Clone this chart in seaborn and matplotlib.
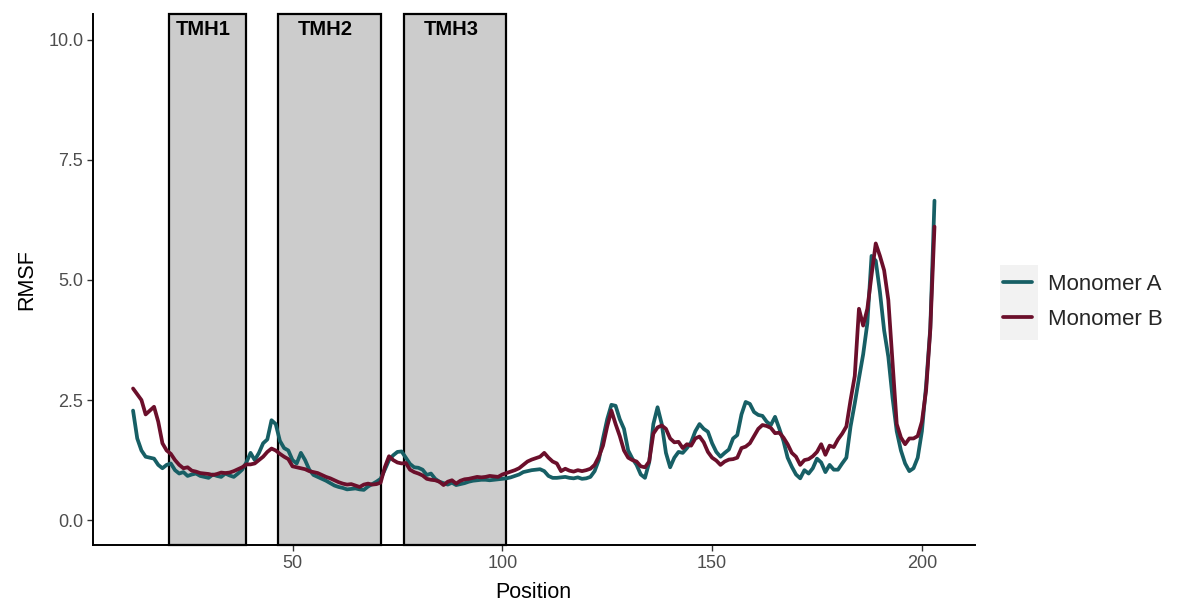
import numpy as np
import pandas as pd
import seaborn as sns
import matplotlib.pyplot as plt
from matplotlib.patches import Rectangle

# residue positions
position = list(range(12, 204))

monomer_a = [
    2.28, 1.70, 1.45, 1.32, 1.30, 1.28, 1.15, 1.08, 1.15, 1.18,
    1.04, 0.97, 1.00, 0.92, 0.95, 0.97, 0.92, 0.90, 0.88, 0.95,
    0.92, 0.90, 0.97, 0.93, 0.90, 0.97, 1.05, 1.20, 1.40, 1.25,
    1.40, 1.60, 1.68, 2.08, 2.00, 1.65, 1.50, 1.45, 1.25, 1.18,
    1.40, 1.25, 1.05, 0.94, 0.90, 0.86, 0.82, 0.77, 0.72, 0.69,
    0.67, 0.64, 0.65, 0.66, 0.64, 0.63, 0.70, 0.75, 0.80, 0.86,
    1.05, 1.25, 1.35, 1.42, 1.43, 1.30, 1.17, 1.10, 1.09, 1.05,
    0.94, 0.97, 0.86, 0.80, 0.77, 0.74, 0.78, 0.73, 0.75, 0.77,
    0.80, 0.82, 0.83, 0.84, 0.84, 0.83, 0.84, 0.85, 0.86, 0.87,
    0.89, 0.92, 0.95, 1.00, 1.02, 1.04, 1.05, 1.06, 1.02, 0.92,
    0.88, 0.88, 0.89, 0.90, 0.88, 0.87, 0.89, 0.86, 0.87, 0.90,
    1.02, 1.25, 1.70, 2.10, 2.40, 2.38, 2.10, 1.90, 1.45, 1.28,
    1.15, 0.95, 0.88, 1.20, 2.00, 2.35, 2.00, 1.40, 1.10, 1.30,
    1.42, 1.40, 1.50, 1.62, 1.85, 2.00, 1.90, 1.84, 1.60, 1.42,
    1.32, 1.40, 1.47, 1.70, 1.77, 2.20, 2.46, 2.42, 2.25, 2.19,
    2.17, 2.05, 1.98, 2.15, 1.91, 1.65, 1.30, 1.11, 0.95, 0.87,
    1.04, 0.97, 1.08, 1.28, 1.20, 1.00, 1.15, 1.05, 1.05, 1.18,
    1.30, 1.95, 2.43, 2.95, 3.45, 4.10, 5.50, 5.40, 4.75, 3.95,
    3.40, 2.55, 1.85, 1.45, 1.18, 1.02, 1.08, 1.30, 1.85, 2.80,
    4.00, 6.65,
]

monomer_b = [
    2.74, 2.62, 2.50, 2.20, 2.28, 2.36, 2.05, 1.60, 1.45, 1.38,
    1.25, 1.15, 1.08, 1.10, 1.03, 1.01, 0.98, 0.97, 0.96, 0.94,
    0.96, 0.99, 0.98, 0.99, 1.02, 1.06, 1.10, 1.16, 1.16, 1.18,
    1.25, 1.32, 1.42, 1.49, 1.45, 1.38, 1.32, 1.27, 1.12, 1.10,
    1.08, 1.06, 1.02, 1.00, 0.98, 0.94, 0.90, 0.87, 0.83, 0.79,
    0.76, 0.74, 0.75, 0.72, 0.69, 0.74, 0.76, 0.74, 0.75, 0.78,
    1.10, 1.33, 1.25, 1.20, 1.18, 1.19, 1.05, 1.00, 0.97, 0.93,
    0.86, 0.84, 0.83, 0.80, 0.73, 0.80, 0.83, 0.76, 0.82, 0.85,
    0.86, 0.88, 0.90, 0.89, 0.90, 0.92, 0.91, 0.90, 0.95, 0.98,
    1.01, 1.04, 1.08, 1.15, 1.22, 1.26, 1.29, 1.32, 1.40, 1.30,
    1.22, 1.18, 1.02, 1.07, 1.03, 1.01, 1.04, 1.02, 1.04, 1.07,
    1.15, 1.32, 1.55, 1.95, 2.28, 2.00, 1.75, 1.45, 1.30, 1.25,
    1.22, 1.12, 1.10, 1.22, 1.80, 1.93, 1.97, 1.90, 1.70, 1.62,
    1.63, 1.50, 1.58, 1.55, 1.70, 1.74, 1.62, 1.42, 1.30, 1.24,
    1.15, 1.22, 1.26, 1.27, 1.30, 1.50, 1.53, 1.60, 1.75, 1.90,
    1.98, 1.96, 1.92, 1.81, 1.82, 1.72, 1.58, 1.40, 1.32, 1.15,
    1.25, 1.27, 1.33, 1.42, 1.58, 1.36, 1.55, 1.52, 1.68, 1.80,
    1.95, 2.50, 3.00, 4.40, 4.05, 4.40, 5.10, 5.76, 5.50, 5.20,
    4.58, 3.30, 2.00, 1.72, 1.58, 1.70, 1.70, 1.75, 2.05, 2.70,
    3.96, 6.11,
]

# transmembrane helices
tmh_labels = ["TMH1", "TMH2", "TMH3"]
tmh_start = [20.6, 46.6, 76.6]
tmh_end = [39, 71, 101]

df = pd.concat([
    pd.DataFrame({"Position": position, "RMSF": monomer_a, "Monomer": "Monomer A"}),
    pd.DataFrame({"Position": position, "RMSF": monomer_b, "Monomer": "Monomer B"}),
], ignore_index=True)

sns.set_style("white")
plt.rcParams["font.family"] = ["Liberation Sans", "DejaVu Sans"]

fig = plt.figure(figsize=(11.77, 6.01), dpi=100)
ax = fig.add_axes([0.079, 0.093, 0.749, 0.884])

ylo, yhi = -0.52, 10.54
for lab, s, e in zip(tmh_labels, tmh_start, tmh_end):
    ax.add_patch(Rectangle((s, ylo), e - s, yhi - ylo, facecolor="#cccccc",
                           edgecolor="black", linewidth=1.6, zorder=1, clip_on=False))
    ax.text((s + e) / 2 - 1.0, 10.22, lab, ha="center", va="center",
            fontsize=14.5, fontweight="bold", color="black", zorder=3)

colores = {"Monomer A": "#175f65", "Monomer B": "#6b0f2b"}
sns.lineplot(data=df, x="Position", y="RMSF", hue="Monomer", palette=colores,
             linewidth=2.7, ax=ax, zorder=2)

ax.set_xlim(2.45, 212.55)
ax.set_ylim(ylo, yhi)
ax.set_xticks([50, 100, 150, 200])
ax.set_yticks([0, 2.5, 5.0, 7.5, 10.0])
ax.set_yticklabels(["0.0", "2.5", "5.0", "7.5", "10.0"])
ax.tick_params(axis="both", direction="out", length=4, width=1, color="#333333",
               labelsize=13, labelcolor="#4d4d4d", left=True, bottom=True, pad=3)
ax.set_xlabel("Position", fontsize=15.5, color="black", labelpad=7)
ax.set_ylabel("RMSF", fontsize=15.5, color="black", labelpad=8)

for side in ["top", "right"]:
    ax.spines[side].set_visible(False)
for side in ["left", "bottom"]:
    ax.spines[side].set_color("black")
    ax.spines[side].set_linewidth(1.4)

# legend with ggplot-like grey key background (behind the legend)
fig.patches.append(Rectangle((0.8496, 0.434), 0.0323, 0.125, transform=fig.transFigure,
                             facecolor="#f2f2f2", edgecolor="none", zorder=-5))
handles, labels = ax.get_legend_handles_labels()
ax.legend(handles, labels, loc="center left", bbox_to_anchor=(0.852, 0.4975),
          bbox_transform=fig.transFigure, frameon=False, fontsize=16,
          borderpad=0, borderaxespad=0,
          handlelength=1.3, handletextpad=0.75, labelspacing=0.65)

fig.savefig("out.png", dpi=100)
